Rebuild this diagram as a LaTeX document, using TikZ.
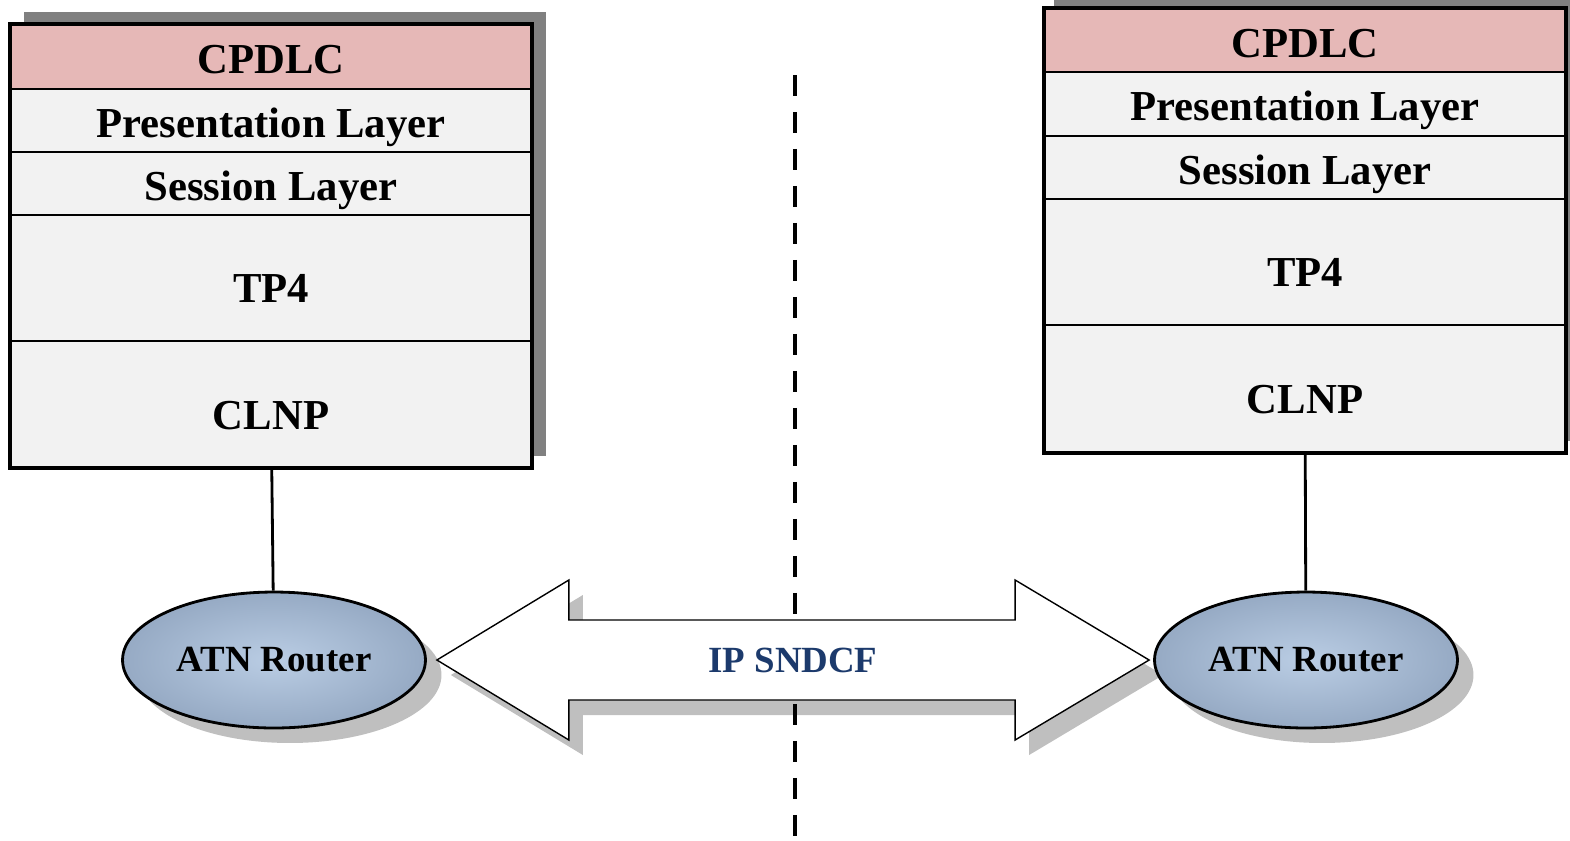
\documentclass[tikz,border=0pt]{standalone}
\usepackage{fontspec}
\setmainfont{Liberation Serif}
\usetikzlibrary{
    positioning,
    shapes.geometric, % to use \node[ellipse]
    shadows,
    backgrounds,
    calc
}

\begin{document}
\begin{tikzpicture}
    [x=0.02cm,y=-0.02cm,
    % Styles
    layer/.style={draw,line width=1.6pt,fill=layercolor,minimum width=10.44cm,
        inner sep=0pt,outer sep=0pt,text height=0.68cm,text depth=0pt,
        font=\fontsize{24.3}{28}\selectfont\bfseries},
    app layer/.style={layer,fill=appcolor},
    tall layer/.style={layer,text height=1cm},
    stack frame/.style={line width=2.3pt},
    stack shadow/.style={fill=black!50},
    router/.style={ellipse,draw,line width=1.6pt,minimum width=6.06cm,minimum height=2.72cm,
        inner sep=0pt,inner color=routerinner,outer color=routerouter,
        drop shadow={shadow xshift=0.32cm,shadow yshift=-0.3cm,fill=black,opacity=0.25},
        font=\fontsize{21}{24}\selectfont\bfseries},
    link/.style={line width=1.6pt},
    border line/.style={line width=2.8pt,dash pattern=on 0.42cm off 0.32cm},
    sndcf arrow/.style={draw,fill=white,line width=0.8pt,line join=miter,
        drop shadow={shadow xshift=0.28cm,shadow yshift=-0.3cm,fill=black,opacity=0.25}},
    sndcf text/.style={text=sndcfcolor,font=\fontsize{21}{24}\selectfont\bfseries}]

    % Colors
    \definecolor{appcolor}{RGB}{230,184,183}
    \definecolor{layercolor}{RGB}{242,242,242}
    \definecolor{routerinner}{RGB}{186,205,228}
    \definecolor{routerouter}{RGB}{150,170,196}
    \definecolor{sndcfcolor}{RGB}{28,58,108}

    \useasboundingbox (0,0) rectangle (1570,840);

    % left end system
    \node[app layer,minimum height=1.3cm] (cpdlcL) at (271,56.5) {CPDLC};
    \node[layer,minimum height=1.26cm,below=0pt of cpdlcL] (presL) {Presentation Layer};
    \node[layer,minimum height=1.26cm,below=0pt of presL] (sessL) {Session Layer};
    \node[tall layer,minimum height=2.52cm,below=0pt of sessL] (tpL) {TP4};
    \node[tall layer,minimum height=2.54cm,below=0pt of tpL] (clnpL) {CLNP};
    \draw[stack frame] (cpdlcL.north west) rectangle (clnpL.south east);

    % right end system
    \node[app layer,minimum height=1.28cm] (cpdlcR) at (1305,40) {CPDLC};
    \node[layer,minimum height=1.28cm,below=0pt of cpdlcR] (presR) {Presentation Layer};
    \node[layer,minimum height=1.26cm,below=0pt of presR] (sessR) {Session Layer};
    \node[tall layer,minimum height=2.52cm,below=0pt of sessR] (tpR) {TP4};
    \node[tall layer,minimum height=2.56cm,below=0pt of tpR] (clnpR) {CLNP};
    \draw[stack frame] (cpdlcR.north west) rectangle (clnpR.south east);

    % routers
    \node[router] (rtrL) at (274,660) {ATN Router};
    \node[router] (rtrR) at (1306,660) {ATN Router};
    \draw[link] (clnpL) -- (rtrL);
    \draw[link] (clnpR) -- (rtrR);

    % tips of the big arrow
    \coordinate (tipL) at ($(rtrL.east)+(10,0)$);
    \coordinate (tipR) at ($(rtrR.west)+(-4,0)$);

    \begin{scope}[on background layer]
        \fill[stack shadow] ([shift={(14,-12)}]cpdlcL.north west) rectangle ([shift={(14,-12)}]clnpL.south east);
        \fill[stack shadow] ([shift={(10,-12)}]cpdlcR.north west) rectangle ([shift={(10,-12)}]clnpR.south east);

        \draw[border line] (795,75) -- (795,840);

        \draw[sndcf arrow] (tipL) -- ++(132,-80) -- ++(0,40)
            -- ($(tipR)+(-134,-40)$) -- ++(0,-40) -- (tipR) -- ++(-134,80) -- ++(0,-40)
            -- ($(tipL)+(132,40)$) -- ++(0,40) -- cycle;
    \end{scope}

    \node[sndcf text] (sndcf) at ($(tipL)!0.5!(tipR)$) {IP SNDCF};
\end{tikzpicture}
\end{document}
